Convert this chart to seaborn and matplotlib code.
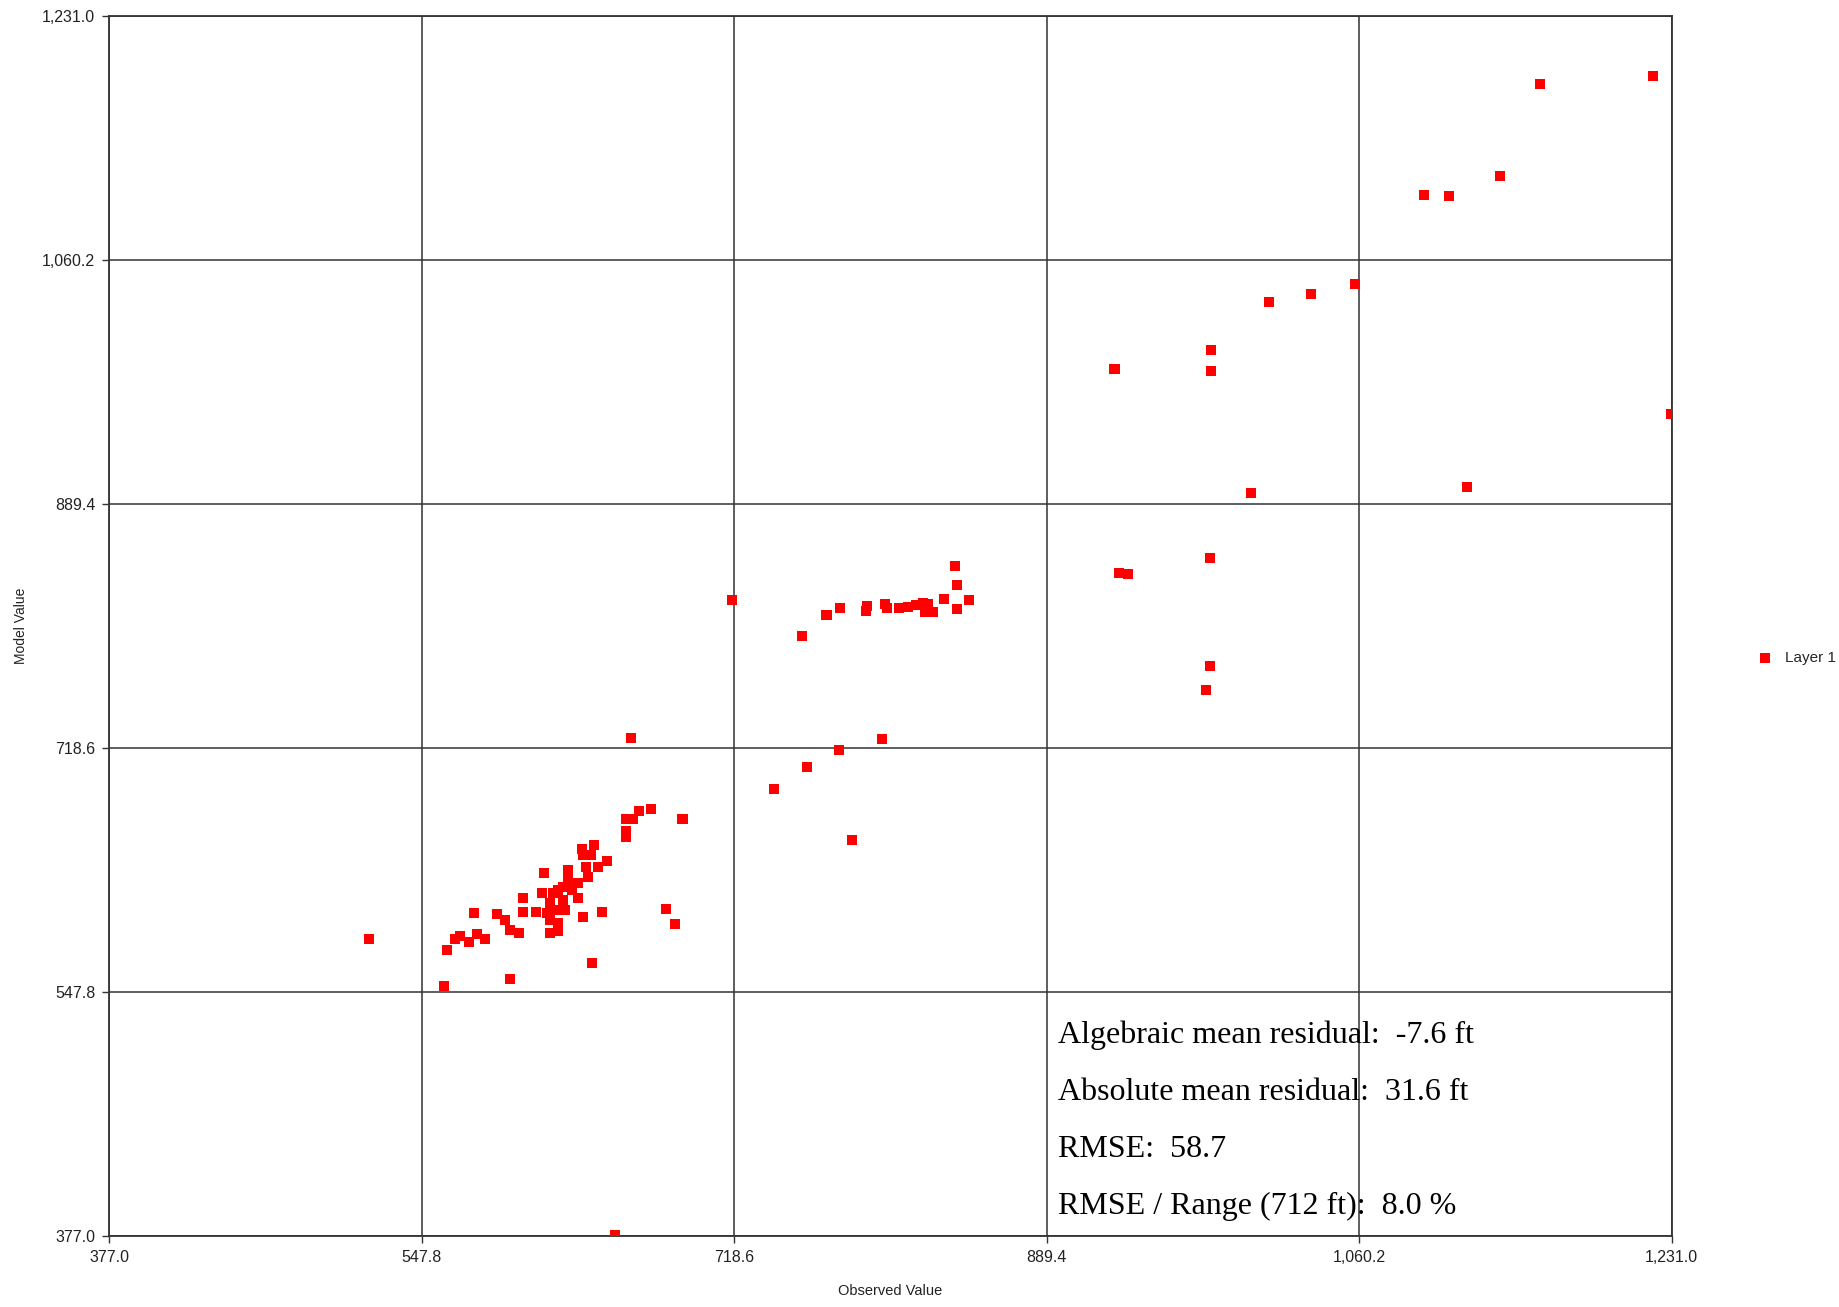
import matplotlib
matplotlib.use("Agg")
import matplotlib.pyplot as plt
import seaborn as sns
import pandas as pd

# observed vs. model heads
observed = [
    # upper group
    1221.0, 1158.8, 1137.3, 1095.5, 1109.5, 1058.1, 1033.7, 1010.7, 979.0, 979.0,
    926.5, 1230.5, 1119.2, 1001.2, 978.8, 928.8, 934.0, 978.8, 976.5,
    # middle group
    717.6, 755.5, 769.1, 776.6, 790.6, 791.5, 801.2, 801.9, 808.7, 813.7,
    818.0, 821.9, 824.6, 822.8, 827.4, 833.2, 839.6, 840.5, 840.5, 847.1,
    799.5, 775.9, 758.6, 740.5, 783.1, 662.1,
    # lower cluster
    519.1, 560.2, 561.7, 566.1, 568.8, 573.9, 578.1, 582.5, 576.6, 588.8,
    593.4, 596.1, 601.0, 596.1, 603.3, 603.3, 614.9, 613.4, 610.6, 619.7,
    618.0, 621.6, 626.1, 618.0, 622.5, 618.0, 622.5, 616.1, 628.0, 628.0,
    625.2, 622.5, 629.8, 633.4, 633.1, 625.2, 635.3, 642.0, 640.2, 636.1,
    637.6, 644.3, 649.4, 638.9, 636.1, 646.2, 641.2, 659.3, 663.4, 659.3,
    659.3, 666.8, 673.1, 690.4, 681.3, 686.4, 653.4,
]
modeled = [
    1188.8, 1183.7, 1118.8, 1105.9, 1104.9, 1043.6, 1036.2, 1030.5, 997.0, 982.2,
    984.1, 952.6, 901.0, 896.9, 851.8, 841.1, 840.2, 776.1, 759.1,
    822.2, 797.0, 811.5, 816.8, 814.7, 818.2, 819.4, 816.4, 816.6, 817.1,
    818.5, 819.9, 819.2, 813.6, 813.6, 823.1, 846.2, 832.7, 815.7, 822.0,
    724.7, 717.2, 705.5, 689.9, 654.2, 725.5,
    584.7, 552.0, 577.2, 584.7, 586.7, 582.5, 588.4, 584.7, 602.9, 602.4,
    598.2, 591.2, 588.9, 556.7, 613.4, 604.0, 631.3, 616.9, 604.0, 616.9,
    609.9, 605.2, 605.2, 598.2, 596.0, 589.0, 590.2, 603.0, 633.2, 626.2,
    621.5, 619.2, 619.2, 623.9, 613.4, 612.2, 647.7, 650.7, 643.7, 643.7,
    635.2, 635.2, 639.5, 628.1, 600.6, 603.6, 567.9, 668.7, 668.7, 660.2,
    656.2, 674.2, 676.0, 668.7, 605.8, 595.3, 377.6,
]
tick_values = [377.0, 547.8, 718.6, 889.4, 1060.2, 1231.0]
stats_lines = [
    "Algebraic mean residual:  -7.6 ft",
    "Absolute mean residual:  31.6 ft",
    "RMSE:  58.7",
    "RMSE / Range (712 ft):  8.0 %",
]

df = pd.DataFrame({"Observed Value": observed, "Model Value": modeled})

sns.set_style("white")
plt.rcParams["font.family"] = ["Liberation Sans", "DejaVu Sans"]

fig = plt.figure(figsize=(18.39, 13.07), dpi=100)
ax = fig.add_axes([0.0593, 0.0543, 0.8497, 0.9335])

sns.scatterplot(data=df, x="Observed Value", y="Model Value", marker="s", s=52,
                color="#ff0000", edgecolor="none", linewidth=0, label="Layer 1",
                ax=ax, zorder=3)

ax.set_xlim(tick_values[0], tick_values[-1])
ax.set_ylim(tick_values[0], tick_values[-1])
ax.set_xticks(tick_values)
ax.set_yticks(tick_values)
labels = [f"{v:,.1f}" for v in tick_values]
ax.set_xticklabels(labels, fontsize=11.5, color="#222222")
ax.set_yticklabels(labels, fontsize=11.5, color="#222222")
ax.tick_params(axis="both", direction="out", length=5, width=1, color="#333333",
               pad=5, bottom=True, left=True)

ax.grid(True, color="#333333", linewidth=1.1)
for sp in ax.spines.values():
    sp.set_visible(True)
    sp.set_color("#333333")
    sp.set_linewidth(1.3)

ax.set_xlabel("Observed Value", fontsize=10.5, color="#222222", labelpad=14)
ax.set_ylabel("Model Value", fontsize=10, color="#222222", labelpad=10)

# summary statistics block
for i, line in enumerate(stats_lines):
    ax.text(0.607, 0.158 - i * 0.0467, line, transform=ax.transAxes,
            fontsize=23, family="Liberation Serif", va="baseline", ha="left",
            color="black", zorder=4)

ax.legend(loc="center left", bbox_to_anchor=(1.046, 0.4738), frameon=False,
          fontsize=11, handletextpad=0.3, markerscale=1.0, borderaxespad=0)

fig.savefig("out.png", dpi=100, facecolor="white")
